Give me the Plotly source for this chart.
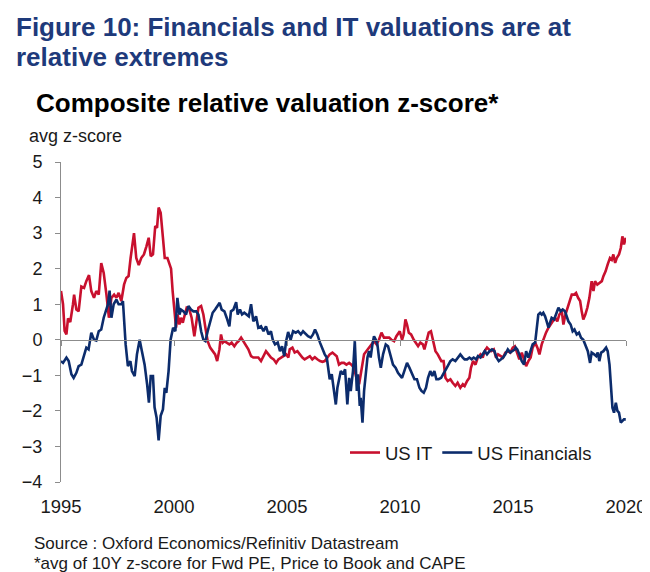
import plotly.graph_objects as go

# ---------------- data ----------------
it_year = [1995.00, 1995.09, 1995.16, 1995.24, 1995.31, 1995.41, 1995.53, 1995.58, 1995.68, 1995.78,
           1995.90, 1996.02, 1996.12, 1996.24, 1996.34, 1996.46, 1996.56, 1996.67, 1996.78, 1996.89,
           1997.01, 1997.12, 1997.23, 1997.35, 1997.45, 1997.55, 1997.67, 1997.79, 1997.89, 1997.99,
           1998.08, 1998.23, 1998.33, 1998.44, 1998.55, 1998.67, 1998.78, 1998.88, 1998.97, 1999.07,
           1999.17, 1999.25, 1999.32, 1999.41, 1999.51, 1999.59, 1999.71, 1999.81, 1999.87, 1999.94,
           2000.02, 2000.09, 2000.16, 2000.24, 2000.31, 2000.39, 2000.46, 2000.56, 2000.68, 2000.78,
           2000.90, 2000.98, 2001.08, 2001.20, 2001.30, 2001.39, 2001.49, 2001.60, 2001.71, 2001.82,
           2001.91, 2002.01, 2002.08, 2002.16, 2002.23, 2002.35, 2002.45, 2002.55, 2002.67, 2002.78,
           2002.86, 2002.97, 2003.07, 2003.19, 2003.29, 2003.41, 2003.51, 2003.63, 2003.73, 2003.85,
           2003.96, 2004.07, 2004.18, 2004.29, 2004.41, 2004.52, 2004.62, 2004.74, 2004.84, 2004.96,
           2005.06, 2005.12, 2005.24, 2005.34, 2005.46, 2005.56, 2005.68, 2005.78, 2005.90, 2006.01,
           2006.12, 2006.23, 2006.34, 2006.46, 2006.57, 2006.67, 2006.79, 2006.89, 2007.01, 2007.11,
           2007.20, 2007.30, 2007.41, 2007.52, 2007.63, 2007.75, 2007.85, 2007.97, 2008.07, 2008.19,
           2008.29, 2008.41, 2008.51, 2008.63, 2008.73, 2008.85, 2008.96, 2009.07, 2009.18, 2009.29,
           2009.40, 2009.52, 2009.62, 2009.74, 2009.84, 2009.99, 2010.09, 2010.16, 2010.24, 2010.31,
           2010.39, 2010.49, 2010.61, 2010.71, 2010.80, 2010.90, 2011.01, 2011.08, 2011.17, 2011.27,
           2011.37, 2011.46, 2011.57, 2011.67, 2011.76, 2011.83, 2011.93, 2012.01, 2012.11, 2012.23,
           2012.33, 2012.45, 2012.55, 2012.67, 2012.78, 2012.86, 2012.97, 2013.07, 2013.14, 2013.23,
           2013.34, 2013.44, 2013.56, 2013.66, 2013.75, 2013.85, 2013.93, 2014.03, 2014.15, 2014.25,
           2014.34, 2014.44, 2014.56, 2014.66, 2014.77, 2014.88, 2014.99, 2015.08, 2015.18, 2015.28,
           2015.39, 2015.49, 2015.58, 2015.68, 2015.78, 2015.87, 2015.98, 2016.08, 2016.17, 2016.27,
           2016.37, 2016.46, 2016.57, 2016.67, 2016.76, 2016.86, 2016.96, 2017.05, 2017.16, 2017.23,
           2017.32, 2017.41, 2017.50, 2017.60, 2017.70, 2017.79, 2017.88, 2017.97, 2018.04, 2018.11,
           2018.20, 2018.29, 2018.38, 2018.48, 2018.56, 2018.63, 2018.73, 2018.82, 2018.93, 2019.00,
           2019.10, 2019.19, 2019.29, 2019.37, 2019.44, 2019.52, 2019.59, 2019.69, 2019.77, 2019.84,
           2019.91, 2019.99]
it_val = [1.37, 1.0, 0.25, 0.15, 0.6, 0.5, 1.0, 1.27, 0.85, 0.8,
          1.5, 1.46, 1.65, 1.82, 1.37, 1.18, 1.37, 1.27, 2.16, 1.88,
          1.27, 0.62, 1.18, 1.27, 1.18, 1.32, 1.09, 1.55, 1.74, 1.79,
          2.3, 3.0, 2.3, 2.1, 2.3, 2.4, 2.63, 2.87, 2.35, 2.4,
          3.2, 3.15, 3.72, 3.57, 2.87, 2.3, 2.3, 2.1, 2.0, 1.37,
          0.71, 0.34, 0.71, 0.43, 0.62, 0.48, 0.66, 0.9, 0.85, 0.62,
          0.1, 0.48, 0.9, 0.95, 0.71, 0.34, -0.04, -0.22, -0.32, -0.41,
          -0.6, -0.27, 0.15, -0.08, -0.04, -0.08, -0.13, -0.08, -0.18, -0.08,
          -0.04, 0.06, -0.04, -0.18, -0.27, -0.46, -0.5, -0.5, -0.5, -0.6,
          -0.46, -0.32, -0.41, -0.5, -0.55, -0.65, -0.55, -0.5, -0.46, -0.41,
          -0.5, -0.27, -0.22, -0.36, -0.32, -0.41, -0.5, -0.55, -0.5, -0.46,
          -0.55, -0.49, -0.55, -0.6, -0.62, -0.6, -0.5, -0.41, -0.36, -0.41,
          -0.46, -0.7, -0.65, -0.65, -0.7, -0.65, -0.7, -0.79, -1.07, -1.25,
          -0.88, -0.41, -0.32, -0.22, -0.13, -0.04, -0.13, 0.0, 0.2, 0.06,
          0.06, 0.06, 0.0, -0.04, 0.1, 0.24, 0.0, 0.15, 0.57, 0.43,
          0.2, 0.15, 0.0, -0.08, -0.18, -0.08, -0.13, -0.27, 0.0, 0.2,
          0.24, 0.0, -0.32, -0.41, -0.5, -0.6, -0.6, -1.07, -1.16, -1.11,
          -1.21, -1.3, -1.21, -1.35, -1.25, -1.3, -1.16, -1.07, -0.79, -0.6,
          -0.7, -0.5, -0.41, -0.5, -0.32, -0.22, -0.27, -0.32, -0.27, -0.5,
          -0.41, -0.46, -0.5, -0.36, -0.32, -0.36, -0.22, -0.18, -0.35, -0.55,
          -0.36, -0.6, -0.74, -0.6, -0.5, -0.22, -0.08, -0.22, -0.41, -0.13,
          0.06, 0.2, 0.34, 0.43, 0.52, 0.62, 0.52, 0.71, 0.8, 0.43,
          0.71, 0.9, 1.09, 1.27, 1.27, 1.32, 1.18, 1.09, 0.8, 0.57,
          0.71, 0.9, 1.18, 1.65, 1.37, 1.65, 1.55, 1.6, 1.65, 1.79,
          1.93, 2.12, 2.3, 2.25, 2.4, 2.16, 2.3, 2.4, 2.58, 2.91,
          2.68, 2.87]

fin_year = [1995.00, 1995.09, 1995.24, 1995.34, 1995.46, 1995.56, 1995.68, 1995.78, 1995.90, 1996.00,
            1996.12, 1996.22, 1996.34, 1996.46, 1996.56, 1996.67, 1996.78, 1996.89, 1997.01, 1997.08,
            1997.15, 1997.23, 1997.33, 1997.45, 1997.55, 1997.67, 1997.74, 1997.86, 1997.96, 1998.07,
            1998.14, 1998.26, 1998.36, 1998.48, 1998.58, 1998.70, 1998.81, 1998.89, 1998.97, 1999.07,
            1999.14, 1999.23, 1999.32, 1999.41, 1999.51, 1999.59, 1999.66, 1999.76, 1999.85, 1999.96,
            2000.06, 2000.15, 2000.24, 2000.31, 2000.42, 2000.53, 2000.64, 2000.75, 2000.86, 2000.98,
            2001.08, 2001.20, 2001.30, 2001.39, 2001.49, 2001.60, 2001.71, 2001.82, 2001.93, 2002.02,
            2002.11, 2002.23, 2002.33, 2002.45, 2002.52, 2002.63, 2002.75, 2002.82, 2002.92, 2003.01,
            2003.11, 2003.22, 2003.31, 2003.41, 2003.51, 2003.63, 2003.73, 2003.85, 2003.96, 2004.07,
            2004.18, 2004.29, 2004.37, 2004.47, 2004.59, 2004.69, 2004.78, 2004.88, 2004.96, 2005.05,
            2005.16, 2005.27, 2005.39, 2005.49, 2005.61, 2005.71, 2005.83, 2005.93, 2006.05, 2006.15,
            2006.24, 2006.34, 2006.46, 2006.57, 2006.67, 2006.76, 2006.83, 2006.89, 2006.98, 2007.05,
            2007.16, 2007.23, 2007.30, 2007.38, 2007.48, 2007.57, 2007.67, 2007.75, 2007.82, 2007.92,
            2008.00, 2008.09, 2008.14, 2008.22, 2008.26, 2008.34, 2008.41, 2008.48, 2008.56, 2008.63,
            2008.70, 2008.78, 2008.85, 2008.93, 2009.00, 2009.07, 2009.15, 2009.25, 2009.37, 2009.47,
            2009.59, 2009.69, 2009.81, 2009.91, 2010.00, 2010.09, 2010.19, 2010.31, 2010.42, 2010.53,
            2010.64, 2010.75, 2010.86, 2010.95, 2011.05, 2011.15, 2011.24, 2011.34, 2011.43, 2011.52,
            2011.61, 2011.71, 2011.82, 2011.91, 2012.01, 2012.11, 2012.23, 2012.33, 2012.45, 2012.55,
            2012.67, 2012.78, 2012.86, 2012.97, 2013.07, 2013.17, 2013.26, 2013.37, 2013.45, 2013.56,
            2013.66, 2013.75, 2013.85, 2013.96, 2014.07, 2014.18, 2014.27, 2014.37, 2014.47, 2014.56,
            2014.66, 2014.77, 2014.88, 2014.99, 2015.08, 2015.12, 2015.19, 2015.28, 2015.39, 2015.49,
            2015.58, 2015.68, 2015.78, 2015.87, 2015.98, 2016.05, 2016.12, 2016.20, 2016.27, 2016.34,
            2016.42, 2016.49, 2016.57, 2016.64, 2016.71, 2016.82, 2016.91, 2017.01, 2017.11, 2017.20,
            2017.30, 2017.38, 2017.45, 2017.55, 2017.64, 2017.72, 2017.82, 2017.92, 2018.01, 2018.11,
            2018.22, 2018.31, 2018.41, 2018.48, 2018.59, 2018.68, 2018.75, 2018.82, 2018.90, 2019.00,
            2019.12, 2019.19, 2019.27, 2019.34, 2019.40, 2019.47, 2019.55, 2019.62, 2019.69, 2019.77,
            2019.84, 2019.91, 2019.99]
fin_val = [-0.6, -0.65, -0.5, -0.6, -0.97, -1.07, -0.93, -0.74, -0.7, -0.46,
           -0.22, -0.27, 0.2, 0.0, -0.02, 0.24, 0.29, 0.62, 0.85, 1.0,
           1.38, 0.62, 1.0, 1.13, 1.0, 1.0, 1.09, -0.13, -0.74, -0.6,
           -0.88, -1.02, -0.41, 0.0, -0.32, -0.7, -1.25, -1.77, -1.02, -1.02,
           -1.9, -2.19, -2.83, -2.14, -1.96, -1.35, -1.49, -0.88, 0.0, 0.34,
           0.24, 1.18, 0.71, 0.85, 0.8, 0.71, 0.95, 0.85, 0.8, 0.8,
           0.71, 0.24, 0.0, -0.04, 0.24, 0.52, 0.76, 0.85, 0.95, 1.04,
           0.85, 0.8, 0.62, 0.38, 0.8, 0.85, 1.06, 0.71, 0.85, 0.71,
           0.76, 0.71, 0.66, 1.0, 0.52, 0.66, 0.34, 0.38, 0.24, 0.38,
           0.15, 0.24, 0.0, -0.13, -0.08, -0.32, -0.18, -0.46, -0.04, 0.22,
           0.0, 0.24, 0.2, 0.24, 0.15, 0.24, 0.15, 0.1, 0.06, 0.15,
           0.29, 0.15, -0.08, -0.27, -0.41, -0.5, -0.93, -1.11, -0.97, -1.35,
           -1.82, -1.35, -1.07, -0.88, -0.97, -0.83, -1.82, -1.07, -1.44, -0.88,
           -0.04, -1.44, -0.97, -1.86, -1.63, -2.33, -1.44, -0.88, -0.5, -0.32,
           -0.5, -0.13, 0.1, 0.0, -0.13, -0.5, -0.79, -0.41, -0.13, -0.18,
           -0.5, -0.7, -0.79, -0.93, -1.0, -1.07, -0.88, -0.65, -0.79, -0.97,
           -1.11, -1.11, -1.35, -1.44, -1.49, -1.35, -1.07, -0.88, -1.02, -0.88,
           -1.11, -1.11, -1.07, -0.97, -0.83, -0.74, -0.6, -0.55, -0.6, -0.5,
           -0.41, -0.5, -0.55, -0.55, -0.5, -0.55, -0.5, -0.55, -0.46, -0.5,
           -0.41, -0.32, -0.41, -0.32, -0.27, -0.32, -0.5, -0.6, -0.55, -0.5,
           -0.41, -0.27, -0.36, -0.32, -0.27, -0.22, -0.27, -0.41, -0.6, -0.7,
           -0.32, -0.5, -0.27, -0.13, -0.08, 0.24, 0.71, 0.76, 0.71, 0.76,
           0.66, 0.52, 0.34, 0.48, 0.62, 0.57, 0.71, 0.9, 0.8, 0.85,
           0.8, 0.66, 0.52, 0.43, 0.24, 0.29, 0.15, 0.2, 0.06, 0.0,
           -0.18, -0.32, -0.65, -0.36, -0.41, -0.46, -0.36, -0.6, -0.36, -0.32,
           -0.22, -0.32, -0.7, -1.25, -1.91, -2.05, -1.77, -2.0, -2.05, -2.33,
           -2.28, -2.24, -2.24]

x_ticks = [1995, 2000, 2005, 2010, 2015, 2020]
x_tick_labels = ["1995", "2000", "2005", "2010", "2015", "2020"]
y_ticks = [-4, -3, -2, -1, 0, 1, 2, 3, 4, 5]

# ---------------- layout helpers ----------------
W, H = 650, 572
ML, MR, MT, MB = 53, 32, 154, 98
PW, PH = W - ML - MR, H - MT - MB


def px_x(px):
    return (px - ML) / PW


def px_y(py):
    return (H - MB - py) / PH


FONT = "Liberation Sans, Arial, sans-serif"
RED = "#C8102E"
BLUE = "#0C2C6C"
NAVY = "#1E3A7B"
AXIS = "#8C8C8C"
TXT = "#1a1a1a"

fig = go.Figure()
fig.add_trace(go.Scatter(x=it_year, y=it_val, mode="lines", name="US IT",
                         line=dict(color=RED, width=2.6), xaxis="x", yaxis="y"))
fig.add_trace(go.Scatter(x=fin_year, y=fin_val, mode="lines", name="US Financials",
                         line=dict(color=BLUE, width=2.6), xaxis="x2", yaxis="y"))

fig.update_layout(
    width=W, height=H,
    margin=dict(l=ML, r=MR, t=MT, b=MB, pad=0),
    paper_bgcolor="white", plot_bgcolor="white",
    font=dict(family=FONT, size=18, color=TXT),
    showlegend=True,
    legend=dict(orientation="h", x=px_x(337), y=px_y(445), xanchor="left", yanchor="middle",
                font=dict(size=18.5, color=TXT), bgcolor="rgba(0,0,0,0)",
                itemwidth=30, tracegroupgap=0),
    xaxis=dict(range=[1995, 2020], tickvals=x_ticks, ticktext=x_tick_labels,
               showline=False, showgrid=False, zeroline=False,
               ticks="outside", ticklen=0, ticklabelstandoff=8,
               tickfont=dict(size=18.5, color=TXT)),
    xaxis2=dict(range=[1995, 2020], overlaying="x", anchor="free", position=4 / 9,
                tickvals=x_ticks, showticklabels=False, showline=True, linecolor=AXIS,
                linewidth=1, ticks="outside", ticklen=5, tickcolor=AXIS,
                showgrid=False, zeroline=False),
    yaxis=dict(range=[-4, 5], tickvals=y_ticks, showline=True, linecolor=AXIS, linewidth=1,
               ticks="outside", ticklen=5, tickcolor=AXIS, showgrid=False, zeroline=False,
               ticklabelstandoff=9, tickfont=dict(size=18, color=TXT)),
)

annos = [
    dict(text="<b>Figure 10: Financials and IT valuations are at</b>", x=px_x(6), y=px_y(18.5),
         font=dict(size=26, color=NAVY)),
    dict(text="<b>relative extremes</b>", x=px_x(6), y=px_y(48.5), font=dict(size=26, color=NAVY)),
    dict(text="<b>Composite relative valuation z-score*</b>", x=px_x(26), y=px_y(95),
         font=dict(size=26, color="#000000")),
    dict(text="avg z-score", x=px_x(19), y=px_y(128), font=dict(size=18, color=TXT)),
    dict(text="Source : Oxford Economics/Refinitiv Datastream", x=px_x(24), y=px_y(535),
         font=dict(size=17, color=TXT)),
    dict(text="*avg of 10Y z-score for Fwd PE, Price to Book and CAPE", x=px_x(24), y=px_y(555),
         font=dict(size=17, color=TXT)),
]
for a in annos:
    fig.add_annotation(xref="paper", yref="paper", xanchor="left", yanchor="middle",
                       showarrow=False, align="left", font_family=FONT, **a)

fig.write_html("out.html")
